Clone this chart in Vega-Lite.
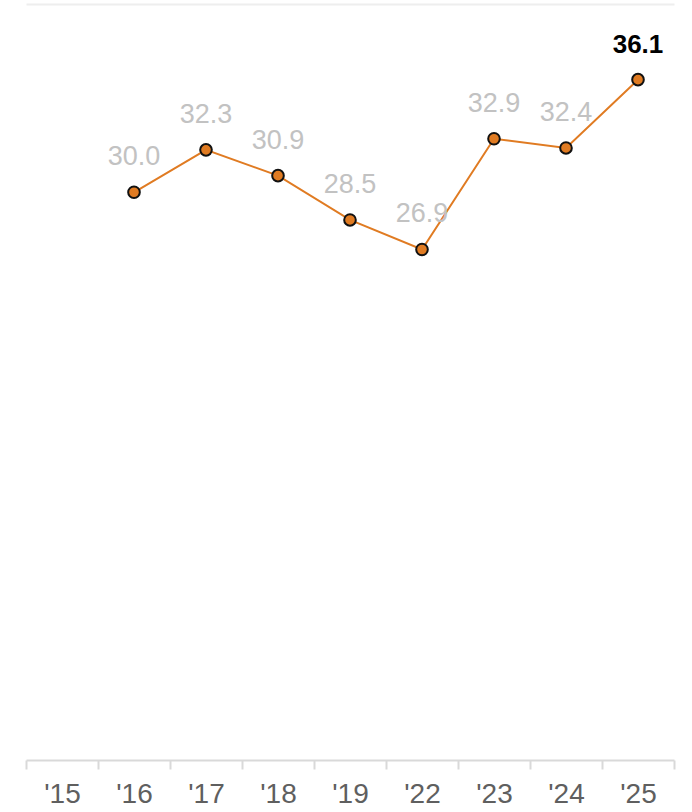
{
  "$schema": "https://vega.github.io/schema/vega-lite/v6.json",
  "autosize": {"type": "none"},
  "width": 648,
  "height": 742,
  "padding": {"left": 26, "top": 4, "right": 18, "bottom": 66},
  "background": "white",
  "config": {"view": {"stroke": null}},
  "data": {"values": [
    {"year": "'16", "value": 30.0},
    {"year": "'17", "value": 32.3},
    {"year": "'18", "value": 30.9},
    {"year": "'19", "value": 28.5},
    {"year": "'22", "value": 26.9},
    {"year": "'23", "value": 32.9},
    {"year": "'24", "value": 32.4},
    {"year": "'25", "value": 36.1}
  ]},
  "encoding": {
    "x": {
      "field": "year", "type": "nominal", "sort": null,
      "scale": {"type": "band", "domain": ["'15", "'16", "'17", "'18", "'19", "'22", "'23", "'24", "'25"], "paddingInner": 0, "paddingOuter": 0},
      "axis": {
        "title": null, "orient": "bottom", "offset": 14, "labelAngle": 0,
        "tickBand": "extent", "ticks": true, "tickSize": 9, "tickColor": "#d9d9d9", "tickWidth": 2,
        "domainColor": "#d9d9d9", "domainWidth": 2, "grid": false,
        "labelFont": "Liberation Sans", "labelFontSize": 28, "labelColor": "#5f5f5f",
        "labelPadding": 11, "labelBaseline": "top"
      }
    },
    "y": {
      "field": "value", "type": "quantitative",
      "scale": {"domain": [0, 40.2], "zero": true, "nice": false},
      "axis": {"title": null, "labels": false, "ticks": false, "domain": false, "grid": true, "values": [40.2], "gridColor": "#eeeeee", "gridWidth": 2}
    }
  },
  "layer": [
    {"mark": {"type": "line", "color": "#e07b22", "strokeWidth": 2}},
    {"mark": {"type": "point", "filled": true, "fill": "#e07b22", "stroke": "#111111", "strokeWidth": 2, "size": 135, "opacity": 1}},
    {
      "transform": [{"filter": "datum.year !== \"'25\""}],
      "mark": {"type": "text", "font": "Liberation Sans", "fontSize": 27, "color": "#c2c2c2", "baseline": "alphabetic", "dy": -27},
      "encoding": {"text": {"field": "value", "format": ".1f"}}
    },
    {
      "transform": [{"filter": "datum.year === \"'25\""}],
      "mark": {"type": "text", "font": "Liberation Sans", "fontSize": 26, "fontWeight": "bold", "color": "#000000", "baseline": "alphabetic", "dy": -27},
      "encoding": {"text": {"field": "value", "format": ".1f"}}
    }
  ]
}
